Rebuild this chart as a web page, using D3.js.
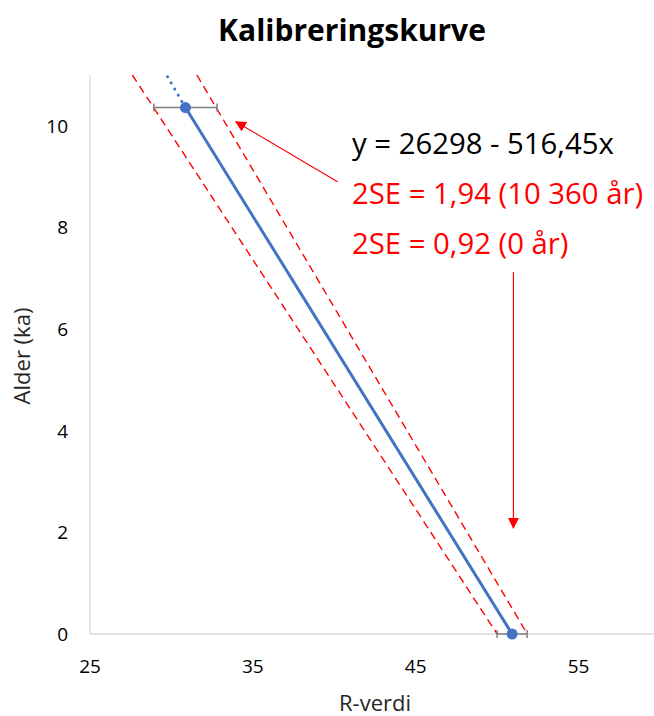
<!DOCTYPE html>
<html>
<head>
<meta charset="utf-8">
<script src="https://cdn.jsdelivr.net/npm/d3@7"></script>
<style>
  body { margin: 0; background: #fff; }
  text { font-family: "Open Sans", sans-serif; }
</style>
</head>
<body>
<div id="chart"></div>
<script>
// data (R-verdi, alder i ka)
const points = [
  { r: 30.86, age: 10.36, err: 1.94 },
  { r: 50.92, age: 0, err: 0.92 }
];
const trendExt = [[30.86, 10.36], [29.7, 11]];
const lowerBand = [[27.6, 11], [50.0, 0]];
const upperBand = [[31.56, 11], [51.85, 0]];
const xTicks = [25, 35, 45, 55];
const yTicks = [0, 2, 4, 6, 8, 10];
const arrows = [
  { from: [40.2, 8.9], to: [33.96, 10.08] },
  { from: [51.0, 7.12], to: [51.0, 2.09] }
];
const labels = [
  { text: "y = 26298 - 516,45x", color: "#000" },
  { text: "2SE = 1,94 (10 360 år)", color: "#ff0000" },
  { text: "2SE = 0,92 (0 år)", color: "#ff0000" }
];

const width = 654;
const height = 716;
const margin = { top: 75, right: -6, bottom: 82, left: 90 };

const svg = d3.select("#chart").append("svg")
  .attr("width", width)
  .attr("height", height);

const x = d3.scaleLinear().domain([25, 60]).range([margin.left, width - margin.right]);
const y = d3.scaleLinear().domain([0, 11]).range([height - margin.bottom, margin.top]);

svg.append("defs").append("marker")
  .attr("id", "head")
  .attr("viewBox", "0 0 10 10")
  .attr("refX", 9).attr("refY", 5)
  .attr("markerWidth", 11).attr("markerHeight", 11)
  .attr("markerUnits", "userSpaceOnUse")
  .attr("orient", "auto")
  .append("path").attr("d", "M0,0L10,5L0,10Z").attr("fill", "#ff0000");

// title
svg.append("text")
  .attr("x", 352).attr("y", 41)
  .attr("text-anchor", "middle")
  .attr("font-size", 30).attr("font-weight", "bold")
  .text("Kalibreringskurve");

// axes
svg.append("line")
  .attr("x1", x(25)).attr("x2", x(25))
  .attr("y1", y(0)).attr("y2", y(11))
  .attr("stroke", "#d9d9d9").attr("stroke-width", 1.3);
svg.append("line")
  .attr("x1", x(25)).attr("x2", width)
  .attr("y1", y(0)).attr("y2", y(0))
  .attr("stroke", "#d9d9d9").attr("stroke-width", 1.3);

svg.selectAll(".xt").data(xTicks).enter().append("text")
  .attr("x", d => x(d)).attr("y", y(0) + 39)
  .attr("text-anchor", "middle")
  .attr("font-size", 19).attr("fill", "#000")
  .text(d => d);

svg.selectAll(".yt").data(yTicks).enter().append("text")
  .attr("x", x(25) - 22).attr("y", d => y(d) + 7)
  .attr("text-anchor", "end")
  .attr("font-size", 19).attr("fill", "#000")
  .text(d => d);

svg.append("text")
  .attr("x", 375).attr("y", 711)
  .attr("text-anchor", "middle")
  .attr("font-size", 22).attr("fill", "#262626")
  .text("R-verdi");

svg.append("text")
  .attr("transform", "translate(30,356) rotate(-90)")
  .attr("text-anchor", "middle")
  .attr("font-size", 22).attr("fill", "#262626")
  .text("Alder (ka)");

const line = d3.line().x(d => x(d[0])).y(d => y(d[1]));

// confidence band
[lowerBand, upperBand].forEach(b => {
  svg.append("path").attr("d", line(b))
    .attr("fill", "none").attr("stroke", "#ff0000")
    .attr("stroke-width", 1.4).attr("stroke-dasharray", "8,5");
});

// trend extension
svg.append("path").attr("d", line(trendExt))
  .attr("fill", "none").attr("stroke", "#4472c4")
  .attr("stroke-width", 3).attr("stroke-dasharray", "0.1,7")
  .attr("stroke-linecap", "round");

// error bars
const eb = svg.selectAll(".eb").data(points).enter().append("g");
eb.append("line")
  .attr("x1", d => x(d.r - d.err)).attr("x2", d => x(d.r + d.err))
  .attr("y1", d => y(d.age)).attr("y2", d => y(d.age))
  .attr("stroke", "#7f7f7f").attr("stroke-width", 1.5);
[-1, 1].forEach(s => {
  eb.append("line")
    .attr("x1", d => x(d.r + s * d.err)).attr("x2", d => x(d.r + s * d.err))
    .attr("y1", d => y(d.age) - 4).attr("y2", d => y(d.age) + 4)
    .attr("stroke", "#7f7f7f").attr("stroke-width", 1.5);
});

// series line
svg.append("path").attr("d", line(points.map(d => [d.r, d.age])))
  .attr("fill", "none").attr("stroke", "#4472c4").attr("stroke-width", 3);

svg.selectAll(".pt").data(points).enter().append("circle")
  .attr("cx", d => x(d.r)).attr("cy", d => y(d.age)).attr("r", 5.5)
  .attr("fill", "#4472c4");

// annotations
arrows.forEach(a => {
  svg.append("line")
    .attr("x1", x(a.from[0])).attr("y1", y(a.from[1]))
    .attr("x2", x(a.to[0])).attr("y2", y(a.to[1]))
    .attr("stroke", "#ff0000").attr("stroke-width", 1.2)
    .attr("marker-end", "url(#head)");
});

svg.selectAll(".lbl").data(labels).enter().append("text")
  .attr("x", 352).attr("y", (d, i) => 154 + i * 50)
  .attr("font-size", 29.3)
  .attr("fill", d => d.color)
  .text(d => d.text);
</script>
</body>
</html>
